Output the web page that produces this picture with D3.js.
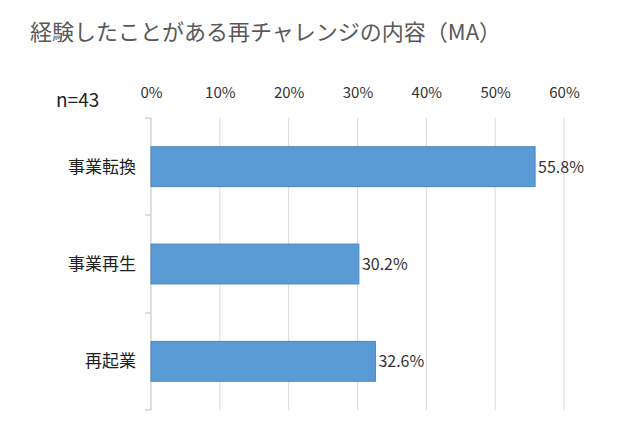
<!DOCTYPE html><html><head><meta charset="utf-8"><script src="https://d3js.org/d3.v7.min.js"></script>
<style>body{margin:0;background:#fff;font-family:"Noto Sans CJK JP","Noto Sans",sans-serif}</style></head><body><svg id="c" width="634" height="446"></svg>
<script>
const categories=["事業転換","事業再生","再起業"];
const values=[55.8,30.2,32.6];
const tickValues=[0,10,20,30,40,50,60];
const svg=d3.select("#c");
const x=d3.scaleLinear().domain([0,60]).range([151,564]);
const y=d3.scaleBand().domain(categories).range([118,410]).paddingInner(0.59).paddingOuter(0.295);
svg.append("text").attr("x",30).attr("y",40).attr("font-size",22).attr("fill","#595959").text("経験したことがある再チャレンジの内容（MA）");
svg.append("text").attr("x",56).attr("y",107).attr("font-size",19).attr("fill","#222").text("n=43");
tickValues.slice(1).forEach(t=>svg.append("line").attr("x1",x(t)).attr("x2",x(t)).attr("y1",118).attr("y2",410).attr("stroke","#d9d9d9"));
svg.append("g").attr("transform","translate(0,101)").call(d3.axisTop(x).tickValues(tickValues).tickFormat(d=>d+"%").tickSize(0))
 .call(g=>g.select(".domain").remove()).selectAll("text").attr("font-size",15).attr("fill","#333").attr("font-family","Noto Sans CJK JP");
svg.append("line").attr("x1",151).attr("x2",151).attr("y1",118).attr("y2",410).attr("stroke","#bfbfbf");
[118,215,313,410].forEach(v=>svg.append("line").attr("x1",145).attr("x2",151).attr("y1",v).attr("y2",v).attr("stroke","#bfbfbf"));
svg.selectAll("rect.b").data(values).join("rect").attr("x",x(0)).attr("y",(d,i)=>y(categories[i])).attr("width",d=>x(d)-x(0)).attr("height",y.bandwidth()).attr("fill","#5b9bd5").attr("stroke","#4a86c0");
svg.selectAll("text.v").data(values).join("text").attr("x",d=>x(d)+3).attr("y",(d,i)=>y(categories[i])+y.bandwidth()/2+6).attr("font-size",16).attr("fill","#333").text(d=>d.toFixed(1)+"%");
svg.selectAll("text.c").data(categories).join("text").attr("x",136).attr("text-anchor","end").attr("y",d=>y(d)+y.bandwidth()/2+6).attr("font-size",17).attr("fill","#222").text(d=>d);
</script></body></html>
